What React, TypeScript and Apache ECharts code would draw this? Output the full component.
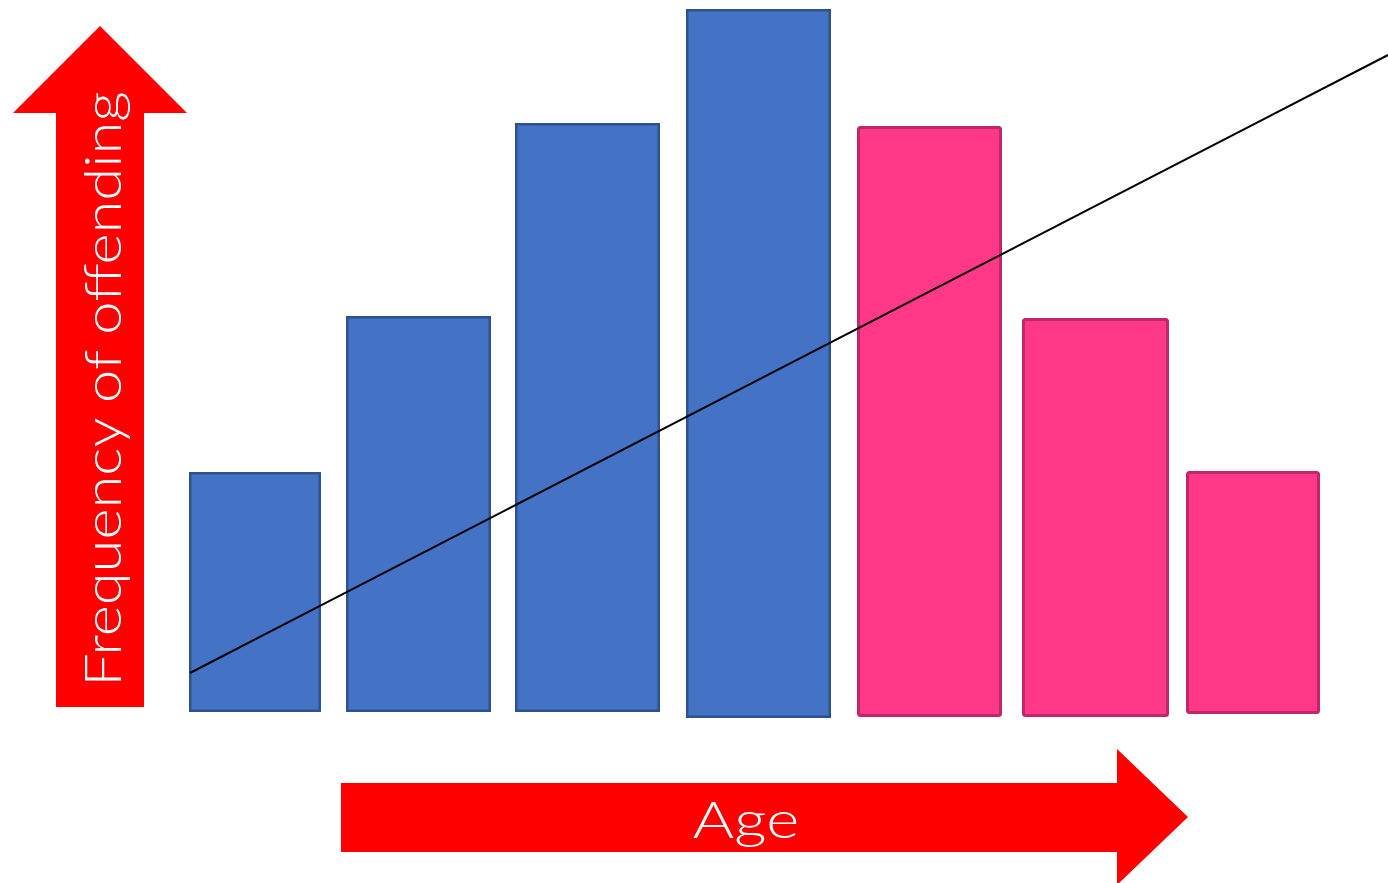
import React, { useEffect, useRef } from "react";
import * as echarts from "echarts";

// Bars (value space: x 0..1388, frequency 0..883)
const barStart = [189, 346, 515, 686, 857, 1022, 1186];
const barEnd = [321, 491, 660, 831, 1002, 1169, 1320];
const barBase = [171, 171, 171, 165, 166, 166, 169];
const barTop = [411, 567, 760, 874, 757, 565, 412];
const barGroup = ["rise", "rise", "rise", "rise", "fall", "fall", "fall"];

// Trend line
const trendX = [190, 1388];
const trendY = [210, 828];

// Arrows (polygon outlines in value space)
const vArrowX = [56, 56, 13, 100, 187, 144, 144];
const vArrowY = [176, 770, 770, 857, 770, 770, 176];
const hArrowX = [341, 1117, 1117, 1188, 1117, 1117, 341];
const hArrowY = [100, 100, 134, 66, -2, 31, 31];

const yLabel = "Frequency of offending";
const xLabel = "Age";

export default function App() {
  const ref = useRef<HTMLDivElement>(null);
  useEffect(() => {
    document.body.style.margin = "0";
    const chart = echarts.init(ref.current!, null, { renderer: "svg" });
    const font = "300 51px Lato, 'Open Sans', sans-serif";
    chart.setOption({
      animation: false,
      grid: { left: 0, right: 0, top: 0, bottom: 0 },
      xAxis: { type: "value", min: 0, max: 1388, show: false },
      yAxis: { type: "value", min: 0, max: 883, show: false },
      series: [
        {
          type: "custom",
          clip: false,
          data: [
            { value: [...vArrowX, ...vArrowY] },
            { value: [...hArrowX, ...hArrowY] },
          ],
          renderItem: (params: any, api: any) => {
            const pts: number[][] = [];
            for (let i = 0; i < 7; i++) {
              pts.push(api.coord([api.value(i), api.value(i + 7)]));
            }
            return {
              type: "polygon",
              shape: { points: pts },
              style: { fill: "#FF0000" },
            };
          },
          z: 1,
        },
        {
          type: "custom",
          clip: false,
          data: barStart.map((s, i) => [s, barEnd[i], barBase[i], barTop[i]]),
          renderItem: (params: any, api: any) => {
            const p0 = api.coord([api.value(0), api.value(3)]);
            const p1 = api.coord([api.value(1), api.value(2)]);
            const rise = barGroup[params.dataIndex] === "rise";
            const lw = rise ? 2.5 : 3;
            return {
              type: "rect",
              shape: {
                x: p0[0] + lw / 2,
                y: p0[1] + lw / 2,
                width: p1[0] - p0[0] - lw,
                height: p1[1] - p0[1] - lw,
                r: rise ? 0 : 2,
              },
              style: {
                fill: rise ? "#4472C4" : "#FF3888",
                stroke: rise ? "#2F528F" : "#C0266A",
                lineWidth: lw,
              },
            };
          },
          z: 2,
        },
        {
          type: "line",
          data: trendX.map((x, i) => [x, trendY[i]]),
          symbol: "none",
          lineStyle: { color: "#000000", width: 2 },
          z: 3,
        },
      ],
      graphic: [
        {
          type: "text",
          x: 101,
          y: 389,
          rotation: Math.PI / 2,
          scaleX: 1.17,
          z: 10,
          style: {
            text: yLabel,
            fill: "#FFFFFF",
            font,
            align: "center",
            verticalAlign: "middle",
          },
        },
        {
          type: "text",
          x: 746,
          y: 818,
          scaleX: 1.24,
          z: 10,
          style: {
            text: xLabel,
            fill: "#FFFFFF",
            font,
            align: "center",
            verticalAlign: "middle",
          },
        },
      ],
    });
    return () => chart.dispose();
  }, []);
  return <div ref={ref} style={{ width: 1388, height: 883 }} />;
}
